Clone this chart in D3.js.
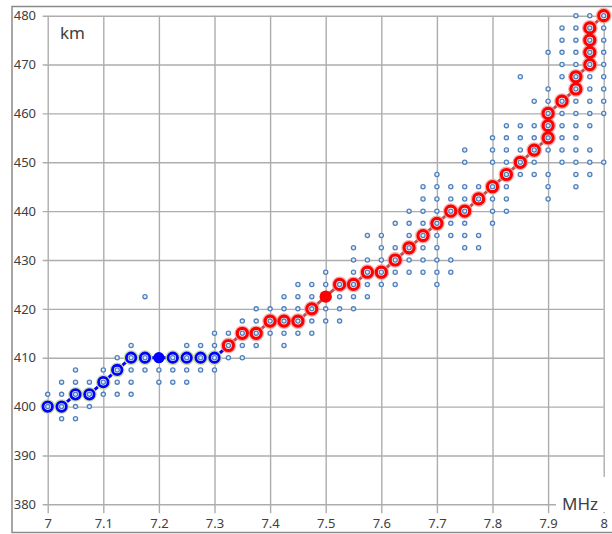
<!DOCTYPE html>
<html>
<head>
<meta charset="utf-8">
<script src="https://cdn.jsdelivr.net/npm/d3@7"></script>
<style>
  body { margin: 0; background: #fff; }
  svg { display: block; }
  text { font-family: "Noto Sans", "DejaVu Sans", sans-serif; fill: #404040; }
</style>
</head>
<body>
<svg width="612" height="534"></svg>
<script>
// frequency columns of the scatter cloud (MHz)
const cloudX = [7, 7.025, 7.05, 7.075, 7.1, 7.125, 7.15, 7.175, 7.2, 7.225, 7.25, 7.275, 7.3,
  7.325, 7.35, 7.375, 7.4, 7.425, 7.45, 7.475, 7.5, 7.525, 7.55, 7.575, 7.6, 7.625, 7.65,
  7.675, 7.7, 7.725, 7.75, 7.775, 7.8, 7.825, 7.85, 7.875, 7.9, 7.925, 7.95, 7.975, 8];
// heights (km) of the small dots in each column
const cloudY = [
  [402.5],
  [405, 402.5, 397.5],
  [407.5, 405, 400, 397.5],
  [405, 400],
  [407.5, 402.5],
  [410, 405, 402.5],
  [412.5, 407.5, 405, 402.5],
  [422.5, 407.5],
  [407.5, 405],
  [407.5, 405],
  [412.5, 407.5, 405],
  [412.5, 407.5],
  [415, 412.5, 407.5],
  [415, 410],
  [417.5, 412.5, 410],
  [420, 417.5, 412.5],
  [420, 415],
  [422.5, 420, 415, 412.5],
  [425, 422.5, 420, 415],
  [425, 422.5, 417.5, 415],
  [427.5, 425, 420, 417.5],
  [422.5, 420, 417.5],
  [432.5, 430, 427.5, 422.5, 420],
  [435, 430, 425, 422.5],
  [435, 432.5, 430, 425],
  [437.5, 432.5, 427.5, 425],
  [440, 437.5, 435, 430, 427.5],
  [445, 442.5, 440, 437.5, 432.5, 430, 427.5],
  [447.5, 445, 442.5, 440, 435, 432.5, 430, 427.5, 425],
  [445, 442.5, 437.5, 435, 430, 427.5],
  [452.5, 450, 445, 442.5, 437.5, 435, 432.5],
  [445, 435, 432.5],
  [455, 452.5, 450, 442.5, 440, 437.5],
  [457.5, 455, 452.5, 450, 445, 442.5, 440],
  [467.5, 457.5, 455, 452.5, 447.5],
  [462.5, 457.5, 455, 450, 447.5],
  [472.5, 465, 462.5, 452.5, 447.5, 445, 442.5],
  [477.5, 475, 472.5, 470, 467.5, 460, 457.5, 455, 452.5, 450],
  [480, 477.5, 475, 472.5, 470, 462.5, 460, 457.5, 455, 452.5, 450, 447.5, 445],
  [480, 467.5, 465, 462.5, 460, 457.5, 452.5, 450, 447.5],
  [477.5, 475, 472.5, 470, 467.5, 465, 462.5, 460, 450]
];

// blue track
const blueX = [7, 7.025, 7.05, 7.075, 7.1, 7.125, 7.15, 7.175, 7.2, 7.225, 7.25, 7.275, 7.3];
const blueY = [400, 400, 402.5, 402.5, 405, 407.5, 410, 410, 410, 410, 410, 410, 410];
// red track
const redX = [7.325, 7.35, 7.375, 7.4, 7.425, 7.45, 7.475, 7.5, 7.525, 7.55, 7.575, 7.6, 7.625,
  7.65, 7.675, 7.7, 7.725, 7.75, 7.775, 7.8, 7.825, 7.85, 7.875, 7.9, 7.9, 7.9, 7.925, 7.95, 7.95,
  7.975, 7.975, 7.975, 7.975, 8];
const redY = [412.5, 415, 415, 417.5, 417.5, 417.5, 420, 422.5, 425, 425, 427.5, 427.5, 430,
  432.5, 435, 437.5, 440, 440, 442.5, 445, 447.5, 450, 452.5, 455, 457.5, 460, 462.5, 465, 467.5,
  470, 472.5, 475, 477.5, 480];
// highlighted points
const blueMark = [7.2, 410];
const redMark = [7.5, 422.5];

const xTicks = [7, 7.1, 7.2, 7.3, 7.4, 7.5, 7.6, 7.7, 7.8, 7.9, 8];
const yTicks = [380, 390, 400, 410, 420, 430, 440, 450, 460, 470, 480];

const svg = d3.select("svg");
const plotL = 47.7, plotR = 603.7, plotT = 15.7, plotB = 504.3;

const x = d3.scaleLinear().domain([7, 8]).range([plotL, plotR]);
const y = d3.scaleLinear().domain([380, 480]).range([plotB, plotT]);

// outer frame
svg.append("rect")
  .attr("x", 12).attr("y", 6.5).attr("width", 620).attr("height", 526)
  .attr("fill", "none").attr("stroke", "#8a8a8a").attr("stroke-width", 1.5);

// grid with ticks sticking out
const gx = svg.append("g")
  .attr("transform", "translate(0," + plotB + ")")
  .call(d3.axisBottom(x).tickValues(xTicks).tickSize(-(plotB - plotT)).tickSizeOuter(0)
    .tickFormat(d3.format("")));
gx.select(".domain").remove();
gx.selectAll(".tick line").attr("stroke", "#adadad").attr("stroke-width", 1.4)
  .attr("y1", 9);
gx.selectAll(".tick text").attr("y", 14).attr("font-size", 13)
  .style("font-family", "'Noto Sans', sans-serif").attr("fill", "#404040");

const gy = svg.append("g")
  .attr("transform", "translate(" + plotL + ",0)")
  .call(d3.axisLeft(y).tickValues(yTicks).tickSize(-(plotR - plotL)).tickSizeOuter(0));
gy.select(".domain").remove();
gy.selectAll(".tick line").attr("stroke", "#adadad").attr("stroke-width", 1.4)
  .attr("x1", -5);
gy.selectAll(".tick text").attr("x", -34).attr("text-anchor", "start").attr("font-size", 13)
  .style("font-family", "'Noto Sans', sans-serif").attr("fill", "#404040");

// unit labels
svg.append("text").attr("x", 60).attr("y", 39).attr("font-size", 17).attr("fill", "#202020")
  .text("km");
svg.append("rect").attr("x", 556).attr("y", 477).attr("width", 56).attr("height", 35)
  .attr("fill", "#fff");
svg.append("text").attr("x", 562).attr("y", 510).attr("font-size", 17).attr("fill", "#202020")
  .text("MHz");

const line = d3.line().x(d => x(d[0])).y(d => y(d[1]));
const bluePts = blueX.map((v, i) => [v, blueY[i]]);
const redPts = redX.map((v, i) => [v, redY[i]]);

// tracks
svg.append("path").datum(redPts).attr("d", line)
  .attr("fill", "none").attr("stroke", "#c0504d").attr("stroke-width", 3);
svg.append("path").datum(bluePts.concat([redPts[0]])).attr("d", line)
  .attr("fill", "none").attr("stroke", "#0000ff").attr("stroke-width", 3);

// ring markers
const isMark = (p, m) => p[0] === m[0] && p[1] === m[1];
const blueRing = bluePts.filter(p => !isMark(p, blueMark));
const redRing = redPts.filter(p => !isMark(p, redMark));

svg.append("g").selectAll("circle").data(blueRing).join("circle")
  .attr("cx", d => x(d[0])).attr("cy", d => y(d[1])).attr("r", 6.4)
  .attr("fill", "none").attr("stroke", "#c9dc9f").attr("stroke-width", 2);
svg.append("g").selectAll("circle").data(blueRing).join("circle")
  .attr("cx", d => x(d[0])).attr("cy", d => y(d[1])).attr("r", 4.7)
  .attr("fill", "#fff").attr("stroke", "#0000ff").attr("stroke-width", 2.8);

svg.append("g").selectAll("circle").data(redRing).join("circle")
  .attr("cx", d => x(d[0])).attr("cy", d => y(d[1])).attr("r", 6.9)
  .attr("fill", "none").attr("stroke", "#f29a9a").attr("stroke-width", 2).attr("opacity", 0.8);
svg.append("g").selectAll("circle").data(redRing).join("circle")
  .attr("cx", d => x(d[0])).attr("cy", d => y(d[1])).attr("r", 5)
  .attr("fill", "#fff").attr("stroke", "#ff0000").attr("stroke-width", 3.2);

// small dots (cloud + centres of rings)
const cloud = [];
cloudX.forEach((cx, i) => cloudY[i].forEach(cy => cloud.push([cx, cy])));
const dots = cloud.concat(blueRing, redRing);
svg.append("g").selectAll("circle").data(dots).join("circle")
  .attr("cx", d => x(d[0])).attr("cy", d => y(d[1])).attr("r", 2.1)
  .attr("fill", "#e6edf7").attr("stroke", "#4f81bd").attr("stroke-width", 1.3);

// highlighted points
svg.append("circle").attr("cx", x(blueMark[0])).attr("cy", y(blueMark[1])).attr("r", 5.6)
  .attr("fill", "#0000ff");
svg.append("circle").attr("cx", x(redMark[0])).attr("cy", y(redMark[1])).attr("r", 6.2)
  .attr("fill", "#ff0000");
</script>
</body>
</html>
